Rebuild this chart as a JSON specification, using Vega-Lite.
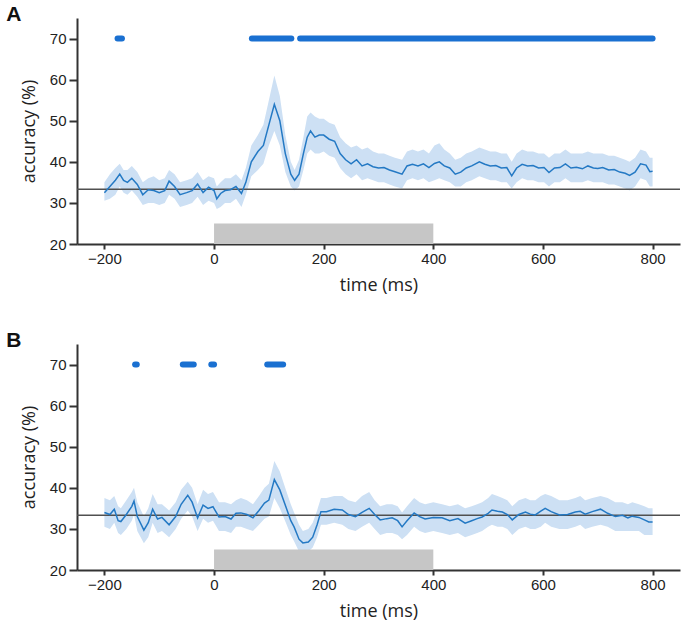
{
  "$schema": "https://vega.github.io/schema/vega-lite/v6.json",
  "padding": {"top": 4, "left": 6, "right": 1, "bottom": 5},
  "spacing": 36,
  "datasets": {
    "a": [
      {"t": -200, "acc": 32.5, "lo": 30.5, "hi": 35},
      {"t": -190, "acc": 34, "lo": 31, "hi": 37},
      {"t": -180, "acc": 35.5, "lo": 32, "hi": 38.5},
      {"t": -172, "acc": 37, "lo": 34, "hi": 39.5},
      {"t": -165, "acc": 35.5, "lo": 32.5, "hi": 38},
      {"t": -158, "acc": 35, "lo": 32, "hi": 38},
      {"t": -150, "acc": 36, "lo": 33, "hi": 39},
      {"t": -140, "acc": 34.5, "lo": 31.5, "hi": 37.5},
      {"t": -130, "acc": 32, "lo": 29.5, "hi": 35},
      {"t": -120, "acc": 33.2, "lo": 30, "hi": 36},
      {"t": -110, "acc": 33, "lo": 30, "hi": 36.5},
      {"t": -100, "acc": 32.5, "lo": 29.5, "hi": 35.5},
      {"t": -90, "acc": 33, "lo": 30, "hi": 36},
      {"t": -82, "acc": 35.3, "lo": 32, "hi": 38},
      {"t": -72, "acc": 34, "lo": 31, "hi": 37},
      {"t": -62, "acc": 32, "lo": 29, "hi": 35},
      {"t": -50, "acc": 32.5, "lo": 29.5, "hi": 35.5},
      {"t": -40, "acc": 33, "lo": 30, "hi": 36},
      {"t": -30, "acc": 34.6, "lo": 31.5, "hi": 37.5},
      {"t": -20, "acc": 32.5, "lo": 29.5, "hi": 35.5},
      {"t": -10, "acc": 33.8, "lo": 30.5, "hi": 36.5},
      {"t": 0, "acc": 33, "lo": 30, "hi": 36},
      {"t": 5, "acc": 31, "lo": 28.5, "hi": 34},
      {"t": 12, "acc": 32.3, "lo": 29, "hi": 35},
      {"t": 20, "acc": 33, "lo": 30, "hi": 36},
      {"t": 30, "acc": 33.2, "lo": 30, "hi": 36},
      {"t": 40, "acc": 34, "lo": 31, "hi": 37},
      {"t": 50, "acc": 32.3, "lo": 29, "hi": 35.5},
      {"t": 58, "acc": 35, "lo": 32, "hi": 38.5},
      {"t": 68, "acc": 40, "lo": 36.5, "hi": 44},
      {"t": 80, "acc": 42.5, "lo": 38, "hi": 46.5},
      {"t": 90, "acc": 44, "lo": 39.5, "hi": 49},
      {"t": 100, "acc": 49, "lo": 44, "hi": 55},
      {"t": 110, "acc": 54, "lo": 47.5, "hi": 61},
      {"t": 120, "acc": 50, "lo": 44, "hi": 56},
      {"t": 130, "acc": 42, "lo": 37.5, "hi": 46.5},
      {"t": 140, "acc": 37, "lo": 34, "hi": 40},
      {"t": 147, "acc": 35.5, "lo": 33, "hi": 38},
      {"t": 155, "acc": 37, "lo": 34, "hi": 40.5},
      {"t": 163, "acc": 42, "lo": 38, "hi": 46},
      {"t": 170, "acc": 46, "lo": 42, "hi": 51},
      {"t": 176, "acc": 47.5, "lo": 43, "hi": 52},
      {"t": 184, "acc": 46, "lo": 42, "hi": 51},
      {"t": 192, "acc": 46.5, "lo": 42, "hi": 50.5},
      {"t": 200, "acc": 46.5, "lo": 42.5, "hi": 50.5},
      {"t": 210, "acc": 45.5, "lo": 41.5, "hi": 49.5},
      {"t": 220, "acc": 45, "lo": 41, "hi": 49},
      {"t": 230, "acc": 42, "lo": 38.5, "hi": 46},
      {"t": 240, "acc": 40.5, "lo": 37, "hi": 44.5},
      {"t": 250, "acc": 39.5, "lo": 36, "hi": 43.5},
      {"t": 260, "acc": 40.5, "lo": 37, "hi": 44},
      {"t": 270, "acc": 39, "lo": 35.5, "hi": 43},
      {"t": 280, "acc": 39.5, "lo": 36, "hi": 43.5},
      {"t": 290, "acc": 38.8, "lo": 35.5, "hi": 42.5},
      {"t": 300, "acc": 38.5, "lo": 35, "hi": 42},
      {"t": 310, "acc": 38.6, "lo": 35, "hi": 42},
      {"t": 320, "acc": 38, "lo": 34.5, "hi": 41.5},
      {"t": 330, "acc": 37.6, "lo": 34, "hi": 41},
      {"t": 343, "acc": 37, "lo": 33.5, "hi": 40.5},
      {"t": 352, "acc": 39, "lo": 35.5, "hi": 42.5},
      {"t": 362, "acc": 39.4, "lo": 36, "hi": 43},
      {"t": 372, "acc": 39, "lo": 35.5, "hi": 42.5},
      {"t": 382, "acc": 39.5, "lo": 36, "hi": 43},
      {"t": 392, "acc": 38.6, "lo": 35, "hi": 42},
      {"t": 402, "acc": 39.6, "lo": 35.5, "hi": 44},
      {"t": 411, "acc": 40, "lo": 36, "hi": 44.5},
      {"t": 420, "acc": 39, "lo": 35.5, "hi": 43},
      {"t": 430, "acc": 38.5, "lo": 35, "hi": 42},
      {"t": 440, "acc": 37, "lo": 34, "hi": 40.5},
      {"t": 450, "acc": 37.5, "lo": 34, "hi": 41},
      {"t": 460, "acc": 38.5, "lo": 35, "hi": 42},
      {"t": 470, "acc": 39, "lo": 35.5, "hi": 42.5},
      {"t": 484, "acc": 40, "lo": 36.5, "hi": 43.5},
      {"t": 494, "acc": 39.4, "lo": 36, "hi": 43},
      {"t": 504, "acc": 39, "lo": 35.5, "hi": 42.5},
      {"t": 514, "acc": 39.1, "lo": 35.5, "hi": 42.5},
      {"t": 524, "acc": 38.5, "lo": 35, "hi": 42},
      {"t": 534, "acc": 38.6, "lo": 35, "hi": 42},
      {"t": 543, "acc": 36.6, "lo": 33.5, "hi": 40},
      {"t": 552, "acc": 38.5, "lo": 35, "hi": 42},
      {"t": 562, "acc": 39.4, "lo": 36, "hi": 43},
      {"t": 572, "acc": 39, "lo": 35.5, "hi": 42.5},
      {"t": 582, "acc": 39.1, "lo": 35.5, "hi": 42.5},
      {"t": 592, "acc": 38.5, "lo": 35, "hi": 42},
      {"t": 602, "acc": 38.6, "lo": 35, "hi": 42},
      {"t": 611, "acc": 37.4, "lo": 34, "hi": 41},
      {"t": 621, "acc": 38.5, "lo": 35, "hi": 42},
      {"t": 631, "acc": 38.6, "lo": 35, "hi": 42},
      {"t": 641, "acc": 39.5, "lo": 36, "hi": 43},
      {"t": 651, "acc": 38.5, "lo": 35, "hi": 42},
      {"t": 661, "acc": 38.7, "lo": 35, "hi": 42},
      {"t": 672, "acc": 38.3, "lo": 35, "hi": 42},
      {"t": 682, "acc": 39, "lo": 35.5, "hi": 42.5},
      {"t": 692, "acc": 38.5, "lo": 35, "hi": 42},
      {"t": 700, "acc": 38.4, "lo": 35, "hi": 42},
      {"t": 709, "acc": 38.6, "lo": 35, "hi": 42},
      {"t": 720, "acc": 38, "lo": 34.5, "hi": 41.5},
      {"t": 730, "acc": 38.1, "lo": 34.5, "hi": 41.5},
      {"t": 740, "acc": 37.5, "lo": 34, "hi": 41},
      {"t": 750, "acc": 37.2, "lo": 33.5, "hi": 40.5},
      {"t": 758, "acc": 36.7, "lo": 33, "hi": 40},
      {"t": 768, "acc": 37.5, "lo": 34, "hi": 41},
      {"t": 778, "acc": 39.5, "lo": 36, "hi": 43},
      {"t": 788, "acc": 39.2, "lo": 35.5, "hi": 42.5},
      {"t": 795, "acc": 37.6, "lo": 34, "hi": 41},
      {"t": 800, "acc": 37.7, "lo": 34, "hi": 41}
    ],
    "b": [
      {"t": -200, "acc": 34, "lo": 30.5, "hi": 37.5},
      {"t": -190, "acc": 33.5, "lo": 30, "hi": 37},
      {"t": -182, "acc": 34.8, "lo": 31.5, "hi": 38},
      {"t": -175, "acc": 32, "lo": 29, "hi": 35.5},
      {"t": -170, "acc": 31.8, "lo": 28.5, "hi": 35},
      {"t": -160, "acc": 33.5, "lo": 30, "hi": 37},
      {"t": -150, "acc": 35.5, "lo": 32, "hi": 39},
      {"t": -146, "acc": 36.8, "lo": 33.5, "hi": 40},
      {"t": -140, "acc": 33, "lo": 29.5, "hi": 36.5},
      {"t": -128, "acc": 29.7, "lo": 26.5, "hi": 33},
      {"t": -120, "acc": 31.5, "lo": 28, "hi": 35},
      {"t": -112, "acc": 34.8, "lo": 31.5, "hi": 38.5},
      {"t": -103, "acc": 32.4, "lo": 29, "hi": 36},
      {"t": -95, "acc": 32.8, "lo": 29.5, "hi": 36},
      {"t": -82, "acc": 31, "lo": 28, "hi": 34.5},
      {"t": -70, "acc": 33, "lo": 30, "hi": 36.5},
      {"t": -60, "acc": 36, "lo": 32.5, "hi": 39.5},
      {"t": -48, "acc": 38.2, "lo": 34.5, "hi": 41.5},
      {"t": -40, "acc": 36.5, "lo": 33, "hi": 40},
      {"t": -30, "acc": 32.7, "lo": 29.5, "hi": 36},
      {"t": -20, "acc": 35.8, "lo": 32.5, "hi": 39.5},
      {"t": -11, "acc": 35, "lo": 31.5, "hi": 38.5},
      {"t": -2, "acc": 35.4, "lo": 32, "hi": 39},
      {"t": 9, "acc": 32.9, "lo": 29.5, "hi": 36.5},
      {"t": 20, "acc": 33, "lo": 29.5, "hi": 36.5},
      {"t": 31, "acc": 32.4, "lo": 29, "hi": 36},
      {"t": 40, "acc": 33.8, "lo": 30.5, "hi": 37},
      {"t": 49, "acc": 33.9, "lo": 30.5, "hi": 37.5},
      {"t": 60, "acc": 33.5, "lo": 30, "hi": 37},
      {"t": 71, "acc": 32.7, "lo": 29.5, "hi": 36},
      {"t": 82, "acc": 34.5, "lo": 31, "hi": 38},
      {"t": 92, "acc": 36.3, "lo": 32.5, "hi": 40},
      {"t": 100, "acc": 37, "lo": 33, "hi": 41},
      {"t": 110, "acc": 42, "lo": 37.5, "hi": 46.5},
      {"t": 120, "acc": 39.5, "lo": 35, "hi": 44},
      {"t": 131, "acc": 35.4, "lo": 31.5, "hi": 39.5},
      {"t": 140, "acc": 32, "lo": 28.5, "hi": 36},
      {"t": 146, "acc": 30.5, "lo": 27, "hi": 34},
      {"t": 155, "acc": 27.5, "lo": 24.5, "hi": 31},
      {"t": 162, "acc": 26.6, "lo": 24, "hi": 29.5},
      {"t": 172, "acc": 26.8, "lo": 24.5, "hi": 30},
      {"t": 180, "acc": 28, "lo": 25.5, "hi": 31.5},
      {"t": 188, "acc": 31, "lo": 28, "hi": 34.5},
      {"t": 195, "acc": 34.2, "lo": 31, "hi": 37.5},
      {"t": 205, "acc": 34.2, "lo": 31, "hi": 37.5},
      {"t": 219, "acc": 34.8, "lo": 31.5, "hi": 38},
      {"t": 234, "acc": 34.6, "lo": 31, "hi": 38},
      {"t": 245, "acc": 33.5, "lo": 30, "hi": 37},
      {"t": 258, "acc": 33, "lo": 29.5, "hi": 36.5},
      {"t": 270, "acc": 34, "lo": 30.5, "hi": 38},
      {"t": 283, "acc": 35, "lo": 31.5, "hi": 39},
      {"t": 293, "acc": 33.5, "lo": 30, "hi": 37},
      {"t": 303, "acc": 32.2, "lo": 28.5, "hi": 35.5},
      {"t": 315, "acc": 32.5, "lo": 29, "hi": 36},
      {"t": 325, "acc": 32.7, "lo": 29, "hi": 36},
      {"t": 335, "acc": 32, "lo": 28.5, "hi": 35.5},
      {"t": 343, "acc": 30.5, "lo": 27.5, "hi": 34},
      {"t": 352, "acc": 32, "lo": 28.5, "hi": 35.5},
      {"t": 365, "acc": 33.9, "lo": 30.5, "hi": 37.5},
      {"t": 375, "acc": 33, "lo": 29.5, "hi": 36.5},
      {"t": 385, "acc": 32.4, "lo": 29, "hi": 36},
      {"t": 400, "acc": 32.8, "lo": 29.5, "hi": 36.5},
      {"t": 416, "acc": 32.7, "lo": 29, "hi": 36},
      {"t": 430, "acc": 32, "lo": 28.5, "hi": 35.5},
      {"t": 445, "acc": 32.5, "lo": 29, "hi": 36},
      {"t": 458, "acc": 31.4, "lo": 28, "hi": 35},
      {"t": 470, "acc": 32, "lo": 28.5, "hi": 35.5},
      {"t": 480, "acc": 32.5, "lo": 29, "hi": 36},
      {"t": 489, "acc": 32.9, "lo": 29.5, "hi": 36.5},
      {"t": 500, "acc": 33.8, "lo": 30.5, "hi": 37.5},
      {"t": 507, "acc": 34.6, "lo": 31, "hi": 38.5},
      {"t": 517, "acc": 34.3, "lo": 30.5, "hi": 38},
      {"t": 526, "acc": 34.1, "lo": 30.5, "hi": 37.5},
      {"t": 535, "acc": 33.5, "lo": 30, "hi": 37},
      {"t": 544, "acc": 32.2, "lo": 28.5, "hi": 35.5},
      {"t": 556, "acc": 33.5, "lo": 30, "hi": 37},
      {"t": 568, "acc": 34.1, "lo": 30.5, "hi": 37.5},
      {"t": 577, "acc": 33.6, "lo": 30, "hi": 37},
      {"t": 586, "acc": 33.4, "lo": 30, "hi": 37},
      {"t": 596, "acc": 34.3, "lo": 30.5, "hi": 38},
      {"t": 604, "acc": 35, "lo": 31.5, "hi": 38.5},
      {"t": 615, "acc": 34.2, "lo": 30.5, "hi": 38},
      {"t": 630, "acc": 33.4, "lo": 30, "hi": 37},
      {"t": 645, "acc": 33.5, "lo": 30, "hi": 37},
      {"t": 659, "acc": 34.1, "lo": 30.5, "hi": 37.5},
      {"t": 668, "acc": 34.3, "lo": 31, "hi": 38},
      {"t": 677, "acc": 33.6, "lo": 30, "hi": 37},
      {"t": 690, "acc": 34.2, "lo": 30.5, "hi": 37.5},
      {"t": 705, "acc": 34.8, "lo": 31, "hi": 38},
      {"t": 718, "acc": 33.8, "lo": 30.5, "hi": 37.5},
      {"t": 732, "acc": 33, "lo": 29.5, "hi": 36.5},
      {"t": 745, "acc": 33.3, "lo": 29.5, "hi": 36.5},
      {"t": 755, "acc": 32.7, "lo": 29.5, "hi": 36},
      {"t": 763, "acc": 33.1, "lo": 29.5, "hi": 36.5},
      {"t": 775, "acc": 32.8, "lo": 29.5, "hi": 36},
      {"t": 785, "acc": 32.2, "lo": 28.5, "hi": 35.5},
      {"t": 793, "acc": 31.7, "lo": 28.5, "hi": 35},
      {"t": 800, "acc": 31.7, "lo": 28.5, "hi": 35}
    ],
    "sigA": [
      {"s": -176, "e": -168},
      {"s": 69, "e": 141},
      {"s": 157, "e": 800}
    ],
    "sigB": [
      {"s": -144, "e": -141},
      {"s": -57, "e": -37},
      {"s": -5, "e": 0},
      {"s": 97, "e": 126}
    ],
    "stim": [{"s": 0, "e": 400}],
    "chance": [{"c": 33.33}]
  },
  "vconcat": [
    {
      "width": 603,
      "height": 226,
      "title": {"text": "A", "frame": "bounds", "anchor": "start", "offset": -7, "dx": -14},
      "layer": [
        {
          "data": {"name": "a"},
          "mark": {"type": "area", "color": "#cde0f4", "opacity": 1},
          "encoding": {
            "x": {"field": "t", "type": "quantitative", "scale": {"domain": [-250, 850], "nice": false}, "axis": {"values": [-200, 0, 200, 400, 600, 800], "title": "time (ms)"}},
            "y": {"field": "lo", "type": "quantitative", "scale": {"domain": [20, 75], "nice": false}, "axis": {"values": [20, 30, 40, 50, 60, 70], "title": "accuracy (%)"}},
            "y2": {"field": "hi"}
          }
        },
        {
          "data": {"name": "stim"},
          "mark": {"type": "rect", "color": "#c6c6c6"},
          "encoding": {"x": {"field": "s", "type": "quantitative"}, "x2": {"field": "e"}, "y": {"datum": 20}, "y2": {"datum": 25}}
        },
        {
          "data": {"name": "chance"},
          "mark": {"type": "rule", "color": "#505050", "strokeWidth": 1.5},
          "encoding": {"y": {"field": "c", "type": "quantitative"}}
        },
        {
          "data": {"name": "a"},
          "mark": {"type": "line", "color": "#2479c4", "strokeWidth": 1.5},
          "encoding": {"x": {"field": "t", "type": "quantitative"}, "y": {"field": "acc", "type": "quantitative"}}
        },
        {
          "data": {"name": "sigA"},
          "mark": {"type": "rule", "color": "#1a70d1", "strokeWidth": 6, "strokeCap": "round"},
          "encoding": {"x": {"field": "s", "type": "quantitative"}, "x2": {"field": "e"}, "y": {"datum": 70}}
        }
      ]
    },
    {
      "width": 603,
      "height": 226,
      "title": {"text": "B", "frame": "bounds", "anchor": "start", "offset": -7, "dx": -14},
      "layer": [
        {
          "data": {"name": "b"},
          "mark": {"type": "area", "color": "#cde0f4", "opacity": 1},
          "encoding": {
            "x": {"field": "t", "type": "quantitative", "scale": {"domain": [-250, 850], "nice": false}, "axis": {"values": [-200, 0, 200, 400, 600, 800], "title": "time (ms)"}},
            "y": {"field": "lo", "type": "quantitative", "scale": {"domain": [20, 75], "nice": false}, "axis": {"values": [20, 30, 40, 50, 60, 70], "title": "accuracy (%)"}},
            "y2": {"field": "hi"}
          }
        },
        {
          "data": {"name": "stim"},
          "mark": {"type": "rect", "color": "#c6c6c6"},
          "encoding": {"x": {"field": "s", "type": "quantitative"}, "x2": {"field": "e"}, "y": {"datum": 20}, "y2": {"datum": 25}}
        },
        {
          "data": {"name": "chance"},
          "mark": {"type": "rule", "color": "#505050", "strokeWidth": 1.5},
          "encoding": {"y": {"field": "c", "type": "quantitative"}}
        },
        {
          "data": {"name": "b"},
          "mark": {"type": "line", "color": "#2479c4", "strokeWidth": 1.5},
          "encoding": {"x": {"field": "t", "type": "quantitative"}, "y": {"field": "acc", "type": "quantitative"}}
        },
        {
          "data": {"name": "sigB"},
          "mark": {"type": "rule", "color": "#1a70d1", "strokeWidth": 6, "strokeCap": "round"},
          "encoding": {"x": {"field": "s", "type": "quantitative"}, "x2": {"field": "e"}, "y": {"datum": 70}}
        }
      ]
    }
  ],
  "config": {
    "view": {"stroke": null},
    "axis": {
      "grid": false,
      "domainColor": "#333333",
      "domainWidth": 2,
      "tickColor": "#333333",
      "tickWidth": 2,
      "labelFont": "Liberation Sans",
      "labelFontSize": 15,
      "labelColor": "#222222",
      "titleFont": "Open Sans",
      "titleFontSize": 18,
      "titleFontWeight": "normal",
      "titleColor": "#222222"
    },
    "axisX": {"tickSize": 5, "labelPadding": 2, "titlePadding": 10},
    "axisY": {"tickSize": 8, "labelPadding": 3, "titlePadding": 11},
    "title": {"font": "Liberation Sans", "fontSize": 21, "fontWeight": "bold", "color": "#111111"}
  }
}
